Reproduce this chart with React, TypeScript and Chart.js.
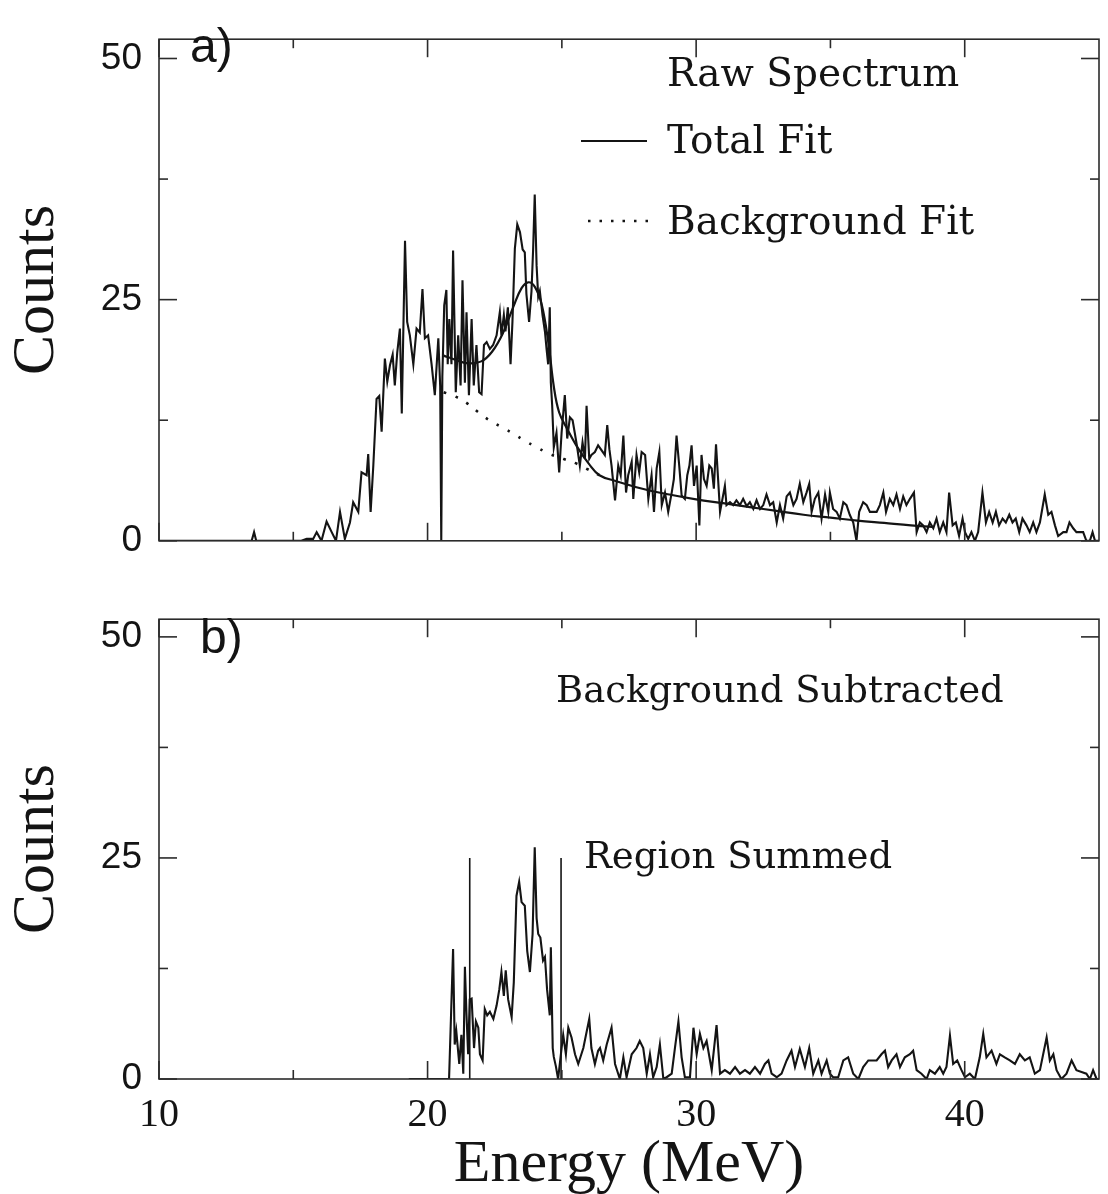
import React, { useEffect, useRef } from "react";
import { Chart, registerables } from "chart.js";

Chart.register(...registerables);

// ---------------- DATA ----------------
const xLabelTicks = [10, 20, 30, 40];
const xMinorTicks = [15, 25, 35];
const yLabelTicks = [0, 25, 50];
const yMinorTicks = [12.5, 37.5];

// panel a) raw spectrum (energy in MeV, counts)
const rawEnergy = [
  10.0, 13.3, 13.45, 13.54, 13.62, 15.3, 15.5, 15.74, 15.87, 16.05, 16.24, 16.43, 16.59, 16.74, 16.92,
  17.11, 17.23, 17.42, 17.54, 17.73, 17.79, 17.88, 17.98, 18.1, 18.2, 18.29, 18.41, 18.5, 18.6, 18.7,
  18.78, 18.87, 18.97, 19.04, 19.16, 19.24, 19.34, 19.47, 19.59, 19.71, 19.81, 19.9, 20.02, 20.15, 20.27,
  20.4, 20.47, 20.51, 20.55, 20.62, 20.7, 20.75, 20.81, 20.89, 20.95, 21.05, 21.14, 21.23, 21.3, 21.39,
  21.45, 21.54, 21.64, 21.72, 21.82, 21.92, 22.01, 22.1, 22.2, 22.32, 22.44, 22.57, 22.69, 22.75, 22.84,
  22.9, 22.99, 23.09, 23.16, 23.25, 23.34, 23.44, 23.54, 23.62, 23.68, 23.78, 23.87, 23.93, 23.99, 24.06,
  24.12, 24.18, 24.28, 24.37, 24.43, 24.49, 24.55, 24.59, 24.64, 24.7, 24.8, 24.9, 24.99, 25.11, 25.2,
  25.3, 25.4, 25.48, 25.57, 25.67, 25.77, 25.86, 25.92, 26.02, 26.1, 26.23, 26.35, 26.6, 26.69, 26.77,
  26.85, 26.98, 27.1, 27.19, 27.29, 27.39, 27.47, 27.6, 27.66, 27.78, 27.88, 27.97, 28.1, 28.22, 28.34,
  28.43, 28.53, 28.63, 28.72, 28.84, 28.96, 29.09, 29.17, 29.27, 29.37, 29.46, 29.58, 29.67, 29.75, 29.83,
  29.92, 30.02, 30.12, 30.2, 30.29, 30.39, 30.49, 30.58, 30.66, 30.74, 30.89, 31.07, 31.13, 31.26, 31.38,
  31.5, 31.63, 31.75, 31.88, 32.0, 32.13, 32.25, 32.38, 32.5, 32.62, 32.75, 32.87, 33.0, 33.12, 33.24,
  33.37, 33.49, 33.62, 33.74, 33.86, 33.99, 34.11, 34.21, 34.3, 34.42, 34.55, 34.67, 34.8, 34.92, 34.98,
  35.1, 35.23, 35.35, 35.48, 35.6, 35.72, 35.85, 35.97, 36.07, 36.22, 36.35, 36.47, 36.6, 36.72, 36.84,
  36.97, 37.07, 37.21, 37.34, 37.46, 37.59, 37.71, 37.83, 37.96, 38.11, 38.21, 38.33, 38.45, 38.58, 38.7,
  38.83, 38.95, 39.07, 39.2, 39.32, 39.42, 39.55, 39.67, 39.79, 39.92, 40.01, 40.13, 40.25, 40.38, 40.5,
  40.66, 40.79, 40.91, 41.04, 41.16, 41.28, 41.41, 41.53, 41.66, 41.78, 41.9, 42.03, 42.15, 42.3, 42.42,
  42.55, 42.67, 42.8, 42.98, 43.11, 43.23, 43.36, 43.48, 43.67, 43.79, 43.9, 44.04, 44.16, 44.29, 44.41,
  44.53, 44.66, 44.76, 44.85, 45.0,
];
const rawCounts = [
  0, 0, 0, 0.9, 0, 0, 0.2, 0.2, 0.9, 0, 2.0, 0.9, 0, 3.0, 0.2,
  1.9, 4.0, 3.0, 7.1, 6.8, 9.0, 3.0, 7.8, 14.7, 15.0, 11.3, 18.9, 16.5, 18.2, 19.3,
  16.1, 19.5, 22, 13.2, 31.1, 22.7, 21.3, 18.3, 22, 21.6, 26.1, 21, 21.3, 18.3, 15.1,
  21, 16, 0, 17, 24.4, 26, 18.3, 23, 18.3, 30.1, 15.4, 21.3, 16.1, 27, 16.4,
  23.7, 15.1, 23, 16.1, 20.3, 15.4, 15.2, 20.3, 20.6, 19.9, 20.3, 21.3, 23.7, 21.3, 23.4,
  21.7, 24.2, 18.3, 22.7, 30.3, 32.8, 32, 30.2, 29.9, 25.6, 22.7, 25.9, 30.2, 35.9, 28.5,
  25.3, 25.9, 23.4, 21.7, 19.9, 18.3, 24.2, 16.4, 14, 9.7, 11.2, 7.1, 11.2, 15.1, 10.6,
  12.8, 12.5, 11.2, 9.7, 7.8, 10.2, 8.5, 14, 8.5, 8.9, 9.2, 9.9, 8.9, 12, 9.5,
  7.8, 4.2, 7.8, 6.8, 10.9, 5, 6.8, 8.2, 4.35, 8.9, 7.1, 9.2, 8.9, 4.35, 6.8,
  3.0, 7.5, 9.2, 3.7, 5, 3, 5, 6.4, 10.9, 7.8, 4.7, 4.35, 6.8, 7.8, 9.9,
  5.7, 7.8, 1.6, 8.9, 6.4, 5.7, 7.8, 7.5, 5.4, 10, 3, 5.7, 3.7, 4, 3.7,
  4.2, 3.7, 4.35, 3.6, 4, 3.3, 4.2, 3.3, 3.7, 4.8, 3.7, 4.0, 1.9, 3.7, 2.3,
  4.6, 5, 3.7, 4.35, 5.9, 4, 5, 5.9, 3, 4.35, 5, 2.3, 4.8, 3, 5,
  3.3, 3, 2.3, 4, 3.7, 2.7, 1.9, 0, 3, 4, 3.7, 3, 3, 3, 3.7,
  5, 3, 4.35, 3.7, 4.8, 3.3, 4.6, 3.7, 4.35, 5, 0.9, 1.9, 1.6, 0.9, 1.9,
  1.3, 2.3, 0.9, 1.9, 0.9, 5, 1.6, 1.9, 0.5, 2.3, 0.9, 0.2, 0.9, 0, 0.9,
  5, 1.9, 3, 1.9, 3, 1.6, 2.3, 1.9, 2.7, 1.9, 2.3, 0.9, 2.3, 1.6, 0.9,
  1.9, 0.9, 1.9, 4.8, 2.7, 3, 1.6, 0.5, 0.9, 0.9, 1.9, 1.3, 0.9, 0.9, 0.9,
  0, 0, 0.9, 0, 0,
];

// panel a) total fit (smooth)
const fitEnergy = [
  20.6, 21.0, 21.5, 22.0, 22.4, 22.8, 23.2, 23.5, 23.75, 24.0, 24.25, 24.5, 24.7, 24.9, 25.2,
  25.6, 26.0, 26.4, 27.0, 28.0, 29.0, 30.0, 31.0, 32.0, 33.0, 34.0, 35.0, 36.0, 37.0, 38.0, 38.8,
];
const fitCounts = [
  19.2, 18.8, 18.4, 18.6, 19.6, 21.5, 24.3, 26.2, 26.8, 26.3, 24.5, 20.5, 16.0, 13.3, 11.6,
  9.6, 8.0, 6.8, 6.2, 5.4, 4.8, 4.3, 3.9, 3.5, 3.1, 2.7, 2.4, 2.1, 1.85, 1.6, 1.45,
];

// panel a) background fit (dotted)
const bgEnergy = [20.6, 21.0, 21.45, 21.9, 22.3, 22.75, 23.2, 23.6, 24.06, 24.55, 25.05, 25.55, 25.9, 26.4];
const bgCounts = [15.4, 15.0, 14.3, 13.3, 12.5, 11.8, 11.1, 10.4, 9.7, 9.0, 8.5, 8.0, 7.5, 6.8];

// panel b) background subtracted spectrum
const subEnergy = [
  19.3, 20.8, 20.95, 21.01, 21.07, 21.18, 21.26, 21.33, 21.39, 21.45, 21.51, 21.57, 21.64, 21.73, 21.8,
  21.89, 21.95, 22.05, 22.13, 22.22, 22.32, 22.45, 22.57, 22.67, 22.75, 22.84, 22.91, 23.0, 23.13, 23.21,
  23.31, 23.41, 23.5, 23.62, 23.71, 23.81, 23.91, 23.99, 24.06, 24.12, 24.2, 24.3, 24.37, 24.45, 24.55,
  24.59, 24.66, 24.7, 24.78, 24.86, 24.99, 25.05, 25.15, 25.24, 25.36, 25.49, 25.61, 25.8, 26.02, 26.1,
  26.23, 26.35, 26.42, 26.54, 26.67, 26.85, 26.98, 27.16, 27.29, 27.41, 27.6, 27.78, 27.9, 28.03, 28.16,
  28.28, 28.4, 28.53, 28.65, 28.78, 28.9, 29.09, 29.21, 29.34, 29.46, 29.58, 29.77, 29.9, 30.02, 30.14,
  30.27, 30.39, 30.58, 30.76, 30.89, 31.07, 31.26, 31.45, 31.63, 31.82, 32.0, 32.19, 32.38, 32.56, 32.69,
  32.81, 33.0, 33.18, 33.37, 33.55, 33.68, 33.86, 34.05, 34.21, 34.36, 34.55, 34.67, 34.86, 34.98, 35.1,
  35.29, 35.48, 35.66, 35.85, 36.04, 36.22, 36.41, 36.6, 36.72, 36.9, 37.03, 37.15, 37.28, 37.46, 37.59,
  37.77, 37.96, 38.08, 38.21, 38.39, 38.58, 38.7, 38.89, 39.07, 39.2, 39.32, 39.45, 39.57, 39.72, 39.88,
  40.01, 40.19, 40.38, 40.56, 40.69, 40.81, 41.0, 41.18, 41.31, 41.49, 41.68, 41.87, 42.05, 42.24, 42.42,
  42.61, 42.8, 43.05, 43.17, 43.3, 43.42, 43.6, 43.79, 43.98, 44.16, 44.35, 44.53, 44.66, 44.78, 44.91,
  45.0,
];
const subCounts = [
  0, 0, 14.7, 3.9, 5.4, 1.7, 5.0, 0.6, 12.7, 7.2, 2.8, 9.0, 9.1, 3.5, 6.5,
  5.8, 2.8, 2.1, 7.9, 7.2, 7.6, 6.8, 8.3, 10.1, 12.1, 9.4, 12.3, 9.0, 7.0, 10.9,
  20.7, 22.3, 20.0, 19.6, 14.5, 12.1, 16.4, 26.2, 18.2, 16.4, 16.0, 13.4, 13.8, 10.1, 7.2,
  14.9, 3.5, 2.5, 1.4, 0, 3.5, 5.0, 2.8, 5.8, 4.7, 2.8, 1.7, 3.5, 6.8, 3.5,
  1.7, 3.2, 3.5, 2.1, 3.9, 5.8, 1.7, 0, 2.45, 0.2, 2.8, 3.5, 4.3, 3.5, 0.6,
  2.8, 0.2, 1.35, 3.9, 0, 0.2, 0.6, 3.5, 6.5, 2.45, 0.2, 0.2, 5.8, 2.8, 5.1,
  3.5, 4.3, 1.0, 6.1, 0.6, 1.0, 0.6, 1.35, 0.6, 1.0, 0.6, 1.35, 0.6, 1.7, 2.1,
  0.6, 0.2, 0.6, 2.1, 3.2, 1.35, 3.4, 1.35, 3.5, 0.6, 2.1, 0.6, 2.1, 0.6, 0.2,
  0.2, 2.1, 2.45, 0.6, 0, 1.35, 2.1, 2.1, 2.1, 2.8, 3.2, 1.35, 2.1, 2.8, 1.35,
  2.45, 2.8, 3.2, 1.0, 0.6, 0, 1.0, 0.6, 1.35, 0.6, 1.35, 4.9, 1.7, 2.1, 1.0,
  0.2, 0.6, 0, 2.45, 5.1, 2.45, 3.2, 1.7, 2.8, 2.45, 2.1, 1.7, 2.8, 2.1, 2.45,
  0.6, 1.0, 4.7, 2.1, 2.8, 1.0, 0, 0.6, 2.1, 1.0, 0.8, 0.6, 0, 1.0, 0,
  0,
];

// panel b) summed region limits (MeV) and marker height
const regionLimits = [21.57, 24.97];
const regionMarkerHeight = [0, 25];

// ---------------- HELPERS ----------------
const pts = (xs: number[], ys: number[]) => xs.map((x, i) => ({ x, y: ys[i] }));

const INK = "#141414";

type Label = { text: string; x: number; y: number; font: string };
type Sample = { x1: number; x2: number; y: number; dash: number[]; w: number };

function makeOverlay(labels: Label[], samples: Sample[]) {
  return {
    id: "overlay",
    afterDraw(chart: any) {
      const { ctx, chartArea: a, scales } = chart;
      const x = scales.x;
      const y = scales.y;
      ctx.save();
      ctx.strokeStyle = "#2b2b2b";
      ctx.lineWidth = 1.6;
      ctx.strokeRect(a.left, a.top, a.right - a.left, a.bottom - a.top);
      const seg = (x1: number, y1: number, x2: number, y2: number) => {
        ctx.beginPath();
        ctx.moveTo(x1, y1);
        ctx.lineTo(x2, y2);
        ctx.stroke();
      };
      const xt = (vals: number[], len: number) =>
        vals.forEach((v) => {
          const p = x.getPixelForValue(v);
          seg(p, a.bottom, p, a.bottom - len);
          seg(p, a.top, p, a.top + len);
        });
      const yt = (vals: number[], len: number) =>
        vals.forEach((v) => {
          const p = y.getPixelForValue(v);
          seg(a.left, p, a.left + len, p);
          seg(a.right, p, a.right - len, p);
        });
      xt(xLabelTicks, 18);
      xt(xMinorTicks, 9);
      yt(yLabelTicks, 18);
      yt(yMinorTicks, 9);
      ctx.strokeStyle = INK;
      samples.forEach((s) => {
        ctx.lineWidth = s.w;
        ctx.setLineDash(s.dash);
        seg(s.x1, s.y, s.x2, s.y);
      });
      ctx.setLineDash([]);
      ctx.fillStyle = INK;
      ctx.textAlign = "left";
      ctx.textBaseline = "alphabetic";
      labels.forEach((l) => {
        ctx.font = l.font;
        ctx.fillText(l.text, l.x, l.y);
      });
      ctx.restore();
    },
  };
}

function baseOptions(showX: boolean, xAxisHeight: number, padTop: number) {
  return {
    responsive: false,
    animation: false as const,
    events: [],
    layout: { padding: { left: 0, right: 9, top: padTop, bottom: 0 } },
    plugins: { legend: { display: false }, tooltip: { enabled: false }, title: { display: false } },
    elements: { point: { radius: 0 } },
    scales: {
      x: {
        type: "linear" as const,
        min: 10,
        max: 45,
        afterBuildTicks: (s: any) => {
          s.ticks = xLabelTicks.map((v) => ({ value: v }));
        },
        afterFit: (s: any) => {
          s.height = xAxisHeight;
        },
        grid: { display: false, drawTicks: false },
        border: { display: false },
        ticks: {
          display: showX,
          padding: 12,
          color: INK,
          maxRotation: 0,
          autoSkip: false,
          font: { family: "Liberation Serif", size: 40 },
        },
        title: {
          display: showX,
          text: "Energy (MeV)",
          color: INK,
          font: { family: "Liberation Serif", size: 60, lineHeight: 0.9 },
          padding: { top: 0, bottom: 2 },
        },
      },
      y: {
        type: "linear" as const,
        min: 0,
        max: 52,
        afterBuildTicks: (s: any) => {
          s.ticks = yLabelTicks.map((v) => ({ value: v }));
        },
        afterFit: (s: any) => {
          s.width = 159;
        },
        grid: { display: false, drawTicks: false },
        border: { display: false },
        ticks: {
          padding: 17,
          color: INK,
          font: { family: "Liberation Sans", size: 37 },
        },
        title: {
          display: true,
          text: "Counts",
          color: INK,
          font: { family: "Liberation Serif", size: 60, lineHeight: 1.2 },
          padding: { top: 1, bottom: 0 },
        },
      },
    },
  };
}

const lineStyle = (w: number, dash: number[] = []) => ({
  borderColor: INK,
  borderWidth: w,
  borderDash: dash,
  pointRadius: 0,
  fill: false,
  tension: 0,
});

const TOP_H = 580;
const BOT_H = 614;

export default function App() {
  const topRef = useRef<HTMLCanvasElement | null>(null);
  const botRef = useRef<HTMLCanvasElement | null>(null);

  useEffect(() => {
    document.body.style.margin = "0";
    const top = new Chart(topRef.current as HTMLCanvasElement, {
      type: "line",
      data: {
        datasets: [
          { label: "Raw Spectrum", data: pts(rawEnergy, rawCounts), ...lineStyle(2.1) },
          { label: "Total Fit", data: pts(fitEnergy, fitCounts), ...lineStyle(2.2), tension: 0.4 },
          { label: "Background Fit", data: pts(bgEnergy, bgCounts), ...lineStyle(2.6, [2.5, 10]), tension: 0.4 },
        ],
      },
      options: baseOptions(false, TOP_H - 545, 7) as any,
      plugins: [
        makeOverlay(
          [
            { text: "a)", x: 190, y: 62, font: "48px 'Liberation Sans'" },
            { text: "Raw Spectrum", x: 667, y: 86, font: "39px 'DejaVu Serif'" },
            { text: "Total Fit", x: 667, y: 153, font: "39px 'DejaVu Serif'" },
            { text: "Background Fit", x: 667, y: 234, font: "39px 'DejaVu Serif'" },
          ],
          [
            { x1: 581, x2: 647, y: 141, dash: [], w: 2.2 },
            { x1: 588, x2: 650, y: 221, dash: [2.5, 9], w: 2.4 },
          ]
        ),
      ],
    });

    const bot = new Chart(botRef.current as HTMLCanvasElement, {
      type: "line",
      data: {
        datasets: [
          { label: "Background Subtracted", data: pts(subEnergy, subCounts), ...lineStyle(2.1) },
          {
            label: "Region low",
            data: regionMarkerHeight.map((v) => ({ x: regionLimits[0], y: v })),
            ...lineStyle(1.6),
          },
          {
            label: "Region high",
            data: regionMarkerHeight.map((v) => ({ x: regionLimits[1], y: v })),
            ...lineStyle(1.6),
          },
        ],
      },
      options: baseOptions(true, BOT_H - (1079 - TOP_H), 605 - TOP_H) as any,
      plugins: [
        makeOverlay(
          [
            { text: "b)", x: 200, y: 653 - TOP_H, font: "48px 'Liberation Sans'" },
            { text: "Background Subtracted", x: 556, y: 702 - TOP_H, font: "37px 'DejaVu Serif'" },
            { text: "Region Summed", x: 584, y: 868 - TOP_H, font: "37px 'DejaVu Serif'" },
          ],
          []
        ),
      ],
    });

    return () => {
      top.destroy();
      bot.destroy();
    };
  }, []);

  return (
    <div style={{ position: "absolute", left: 0, top: 0, width: 1108, height: 1194, background: "#fff", overflow: "hidden" }}>
      <canvas ref={topRef} width={1108} height={TOP_H} style={{ position: "absolute", left: 0, top: 0, width: 1108, height: TOP_H }} />
      <canvas ref={botRef} width={1108} height={BOT_H} style={{ position: "absolute", left: 0, top: TOP_H, width: 1108, height: BOT_H }} />
    </div>
  );
}
